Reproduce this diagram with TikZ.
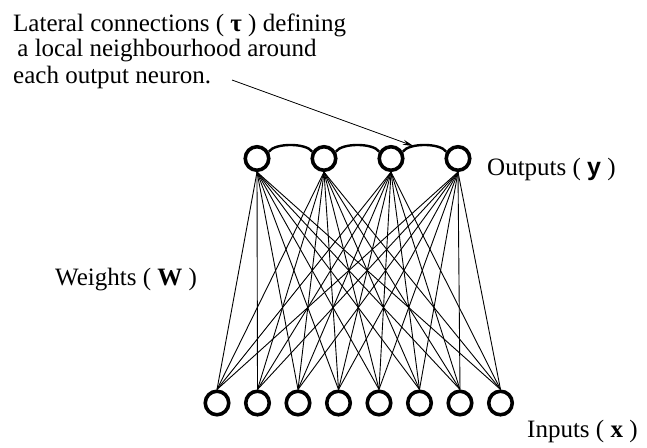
\documentclass[tikz,border=0pt]{standalone}
\usepackage{fontspec}
\setmainfont{Liberation Serif}
\setsansfont{Liberation Sans}
\usetikzlibrary{arrows.meta}
\begin{document}
\begin{tikzpicture}[x=1pt,y=-1pt,
  neuron/.style={circle,draw,line width=3.6pt,minimum size=23.5pt,inner sep=0pt},
  weight/.style={line width=0.9pt},
  lateral/.style={line width=2.4pt},
  pointer/.style={line width=0.8pt,-{Stealth[length=11pt,width=5pt]}},
  lbl/.style={anchor=base west,inner sep=0pt,font=\fontsize{25}{27}\selectfont}]
\useasboundingbox (0,0) rectangle (647,447);
% text
\node[lbl] (t1) at (13,31) {Lateral connections ( \textbf{τ} ) defining};
\node[lbl] (t2) at (11,56) {\ a local neighbourhood around};
\node[lbl] (t3) at (13,83) {each output neuron.};
\node[lbl] (tw) at (55,285) {Weights ( \textbf{W} )};
\node[lbl] (ty) at (487,175) {Outputs ( {\sffamily\bfseries y} )};
\node[lbl] (tx) at (527,437) {Inputs ( \textbf{x} )};
% neurons
\foreach \k/\x in {1/257,2/324,3/391,4/458}
  \node[neuron] (o\k) at (\x,158.5) {};
\foreach \k in {1,...,8}
  \node[neuron] (i\k) at ({217+40.5*(\k-1)},403) {};
% weights
\foreach \a in {1,...,4}
  \foreach \b in {1,...,8}
    \draw[weight] (o\a.south) -- (i\b.north);
% lateral connections
\draw[lateral] (o1.30) .. controls +(6,-9) and +(-6,-9) .. (o2.150);
\draw[lateral] (o2.30) .. controls +(6,-9) and +(-6,-9) .. (o3.150);
\draw[lateral] (o3.30) .. controls +(6,-9) and +(-6,-9) .. coordinate[pos=0.3] (tau) (o4.150);
% pointer
\coordinate (ps) at (232,80);
\draw[pointer] (ps) -- (tau);
\end{tikzpicture}
\end{document}
